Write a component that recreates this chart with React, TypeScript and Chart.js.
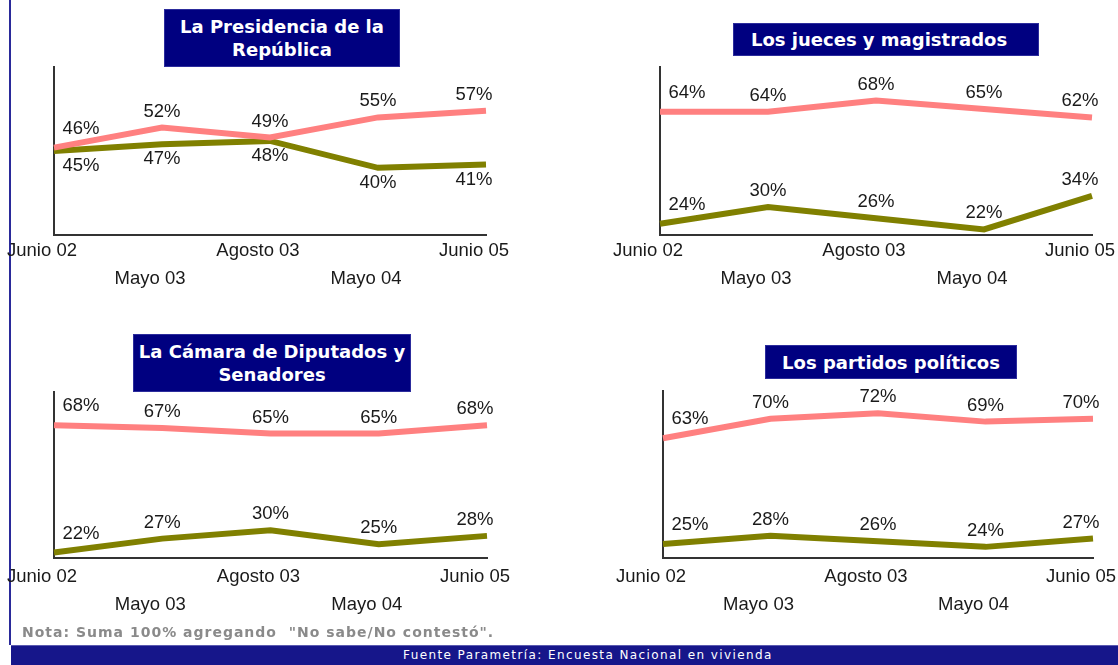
import React, { useEffect, useRef } from "react";
import { Chart, registerables } from "chart.js";

Chart.register(...registerables);

// ---- Data ----
const categories = ["Junio 02", "Mayo 03", "Agosto 03", "Mayo 04", "Junio 05"];

const presidenciaPink = [46, 52, 49, 55, 57];
const presidenciaOlive = [45, 47, 48, 40, 41];

const juecesPink = [64, 64, 68, 65, 62];
const juecesOlive = [24, 30, 26, 22, 34];

const camaraPink = [68, 67, 65, 65, 68];
const camaraOlive = [22, 27, 30, 25, 28];

const partidosPink = [63, 70, 72, 69, 70];
const partidosOlive = [25, 28, 26, 24, 27];

const titles = [
  ["La Presidencia de la", "República"],
  ["Los jueces y magistrados"],
  ["La Cámara de Diputados y", "Senadores"],
  ["Los partidos políticos"],
];

const noteText = 'Nota: Suma 100% agregando  "No sabe/No contestó".';
const sourceText = "Fuente Parametría: Encuesta Nacional en vivienda";

// ---- Styles ----
const PINK = "#ff8080";
const OLIVE = "#808000";
const NAVY = "#000080";
const TEXT = "#1a1a1a";
const AXIS = "#333333";
const FONT = "'Liberation Sans', Arial, sans-serif";

// staggered two-row tick labels
const staggered = categories.map((c, i) => (i % 2 === 0 ? [c, ""] : ["", c]));

const pctLabelPlugin = {
  id: "pctLabels",
  afterDatasetsDraw(chart: any, _args: any, opts: any) {
    const ctx = chart.ctx;
    const below: boolean[] = opts.below || [];
    ctx.save();
    ctx.font = `18.5px ${FONT}`;
    ctx.fillStyle = TEXT;
    ctx.textAlign = "center";
    ctx.textBaseline = "middle";
    chart.data.datasets.forEach((ds: any, di: number) => {
      const meta = chart.getDatasetMeta(di);
      const n = meta.data.length;
      meta.data.forEach((el: any, j: number) => {
        let dx = 0;
        let dy = below[di] ? 15 : -16;
        if (j === 0) {
          dx = 27;
          if (!below[di]) dy -= 3;
        } else if (j === n - 1) {
          dx = -12;
        }
        ctx.fillText(ds.data[j] + "%", el.x + dx, el.y + dy);
      });
    });
    ctx.restore();
  },
};

type ChartSpec = {
  pink: number[];
  olive: number[];
  yMin: number;
  yMax: number;
  below: boolean[];
  left: number;
  top: number;
  width: number;
  height: number;
  pad: { left: number; right: number; top: number };
  axisH: number;
  tickPad: number;
};

const specs: ChartSpec[] = [
  {
    pink: presidenciaPink, olive: presidenciaOlive, yMin: 20, yMax: 70, below: [false, true],
    left: 0, top: 55, width: 540, height: 245, pad: { left: 54, right: 54, top: 12 }, axisH: 65, tickPad: -6,
  },
  {
    pink: juecesPink, olive: juecesOlive, yMin: 20, yMax: 80, below: [false, false],
    left: 600, top: 55, width: 518, height: 245, pad: { left: 60, right: 26, top: 12 }, axisH: 65, tickPad: -6,
  },
  {
    pink: camaraPink, olive: camaraOlive, yMin: 20, yMax: 80, below: [false, false],
    left: 0, top: 380, width: 540, height: 245, pad: { left: 54, right: 53, top: 12 }, axisH: 67, tickPad: -3,
  },
  {
    pink: partidosPink, olive: partidosOlive, yMin: 20, yMax: 80, below: [false, false],
    left: 600, top: 380, width: 518, height: 245, pad: { left: 63, right: 25, top: 11 }, axisH: 67, tickPad: -3,
  },
];

const titleBoxes = [
  { left: 164, top: 9, width: 236, height: 58, align: "center" as const, padLeft: 0 },
  { left: 733, top: 23, width: 306, height: 33, align: "left" as const, padLeft: 17 },
  { left: 133, top: 334, width: 278, height: 58, align: "center" as const, padLeft: 0 },
  { left: 765, top: 345, width: 252, height: 34, align: "center" as const, padLeft: 0 },
];

function MiniChart({ spec }: { spec: ChartSpec }) {
  const ref = useRef<HTMLCanvasElement | null>(null);
  useEffect(() => {
    if (!ref.current) return;
    const chart = new Chart(ref.current, {
      type: "line",
      data: {
        labels: staggered as any,
        datasets: [
          { data: spec.pink, borderColor: PINK, backgroundColor: PINK, borderWidth: 6, pointRadius: 0, tension: 0, fill: false, borderCapStyle: "butt", borderJoinStyle: "miter" },
          { data: spec.olive, borderColor: OLIVE, backgroundColor: OLIVE, borderWidth: 6, pointRadius: 0, tension: 0, fill: false, borderCapStyle: "butt", borderJoinStyle: "miter" },
        ],
      },
      options: {
        animation: false,
        responsive: false,
        maintainAspectRatio: false,
        layout: { padding: { left: spec.pad.left, right: spec.pad.right, top: spec.pad.top, bottom: 0 } },
        plugins: {
          legend: { display: false },
          tooltip: { enabled: false },
          title: { display: false },
          pctLabels: { below: spec.below },
        } as any,
        scales: {
          x: {
            type: "category",
            offset: false,
            grid: { display: false },
            border: { display: true, color: AXIS, width: 2 },
            ticks: {
              autoSkip: false,
              maxRotation: 0,
              minRotation: 0,
              padding: spec.tickPad,
              labelOffset: -12,
              color: TEXT,
              font: { family: FONT, size: 18.5, lineHeight: 28 / 18.5 },
            },
            afterFit: (s: any) => {
              s.height = spec.axisH;
              s.paddingLeft = 0;
              s.paddingRight = 0;
            },
          },
          y: {
            min: spec.yMin,
            max: spec.yMax,
            grid: { display: false },
            border: { display: true, color: AXIS, width: 2 },
            ticks: { display: false },
            afterFit: (s: any) => {
              s.width = 0;
              s.paddingTop = 0;
              s.paddingBottom = 0;
            },
          },
        },
      } as any,
      plugins: [pctLabelPlugin],
    });
    return () => chart.destroy();
  }, [spec]);
  return (
    <canvas
      ref={ref}
      width={spec.width}
      height={spec.height}
      style={{ position: "absolute", left: spec.left, top: spec.top, width: spec.width, height: spec.height }}
    />
  );
}

export default function App() {
  return (
    <div
      style={{
        position: "fixed",
        left: 0,
        top: 0,
        width: 1118,
        height: 665,
        background: "#ffffff",
        overflow: "hidden",
      }}
    >
      {/* left border */}
      <div style={{ position: "absolute", left: 9, top: 0, width: 2, height: 645, background: "#2a2a9a" }} />
      {specs.map((s, i) => (
        <MiniChart key={i} spec={s} />
      ))}
      {titleBoxes.map((b, i) => (
        <div
          key={"t" + i}
          style={{
            position: "absolute",
            left: b.left,
            top: b.top,
            width: b.width,
            height: b.height,
            boxSizing: "border-box",
            background: NAVY,
            border: "1px solid #2c2c9c",
            color: "#ffffff",
            fontFamily: "'DejaVu Sans', Verdana, sans-serif",
            fontWeight: "bold",
            fontSize: 18,
            lineHeight: "23px",
            display: "flex",
            flexDirection: "column",
            justifyContent: "center",
            alignItems: b.align === "left" ? "flex-start" : "center",
            paddingLeft: b.padLeft,
            textAlign: b.align,
            whiteSpace: "nowrap",
          }}
        >
          {titles[i].map((line, k) => (
            <div key={k}>{line}</div>
          ))}
        </div>
      ))}
      <div
        style={{
          position: "absolute",
          left: 22,
          top: 623,
          fontFamily: "'DejaVu Sans', Verdana, sans-serif",
          fontWeight: "bold",
          fontSize: 14,
          letterSpacing: "1px",
          color: "#8a8a8a",
          whiteSpace: "pre",
          lineHeight: "18px",
        }}
      >
        {noteText}
      </div>
      <div
        style={{
          position: "absolute",
          left: 11,
          top: 645,
          width: 1107,
          height: 20,
          background: "#16168a",
          borderTop: "1px solid #5a5ab0",
          boxSizing: "border-box",
        }}
      />
      <div
        style={{
          position: "absolute",
          left: 403,
          top: 647,
          fontFamily: "'DejaVu Sans', Verdana, sans-serif",
          fontSize: 12,
          letterSpacing: "1.4px",
          color: "#ffffff",
          whiteSpace: "pre",
          lineHeight: "16px",
        }}
      >
        {sourceText}
      </div>
    </div>
  );
}
